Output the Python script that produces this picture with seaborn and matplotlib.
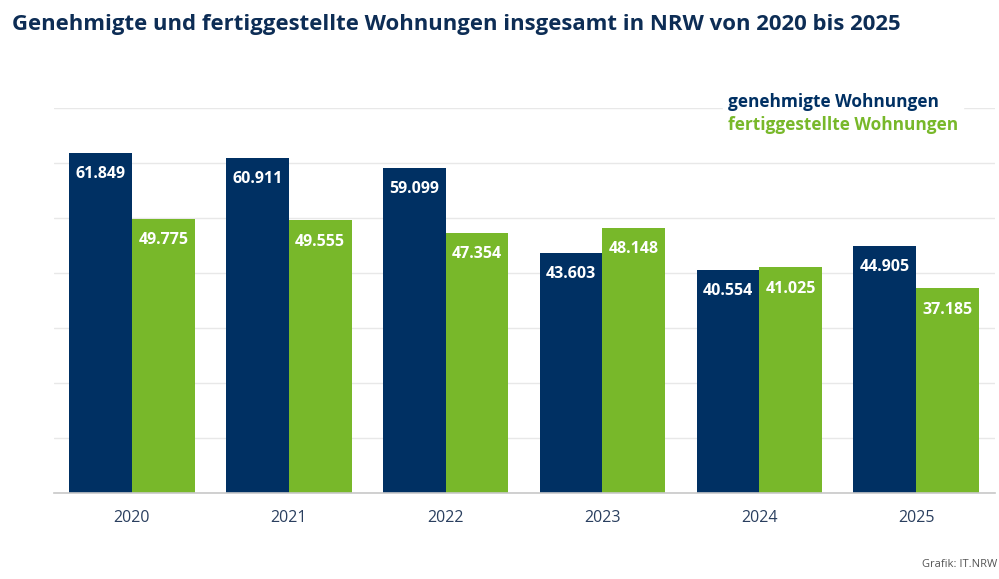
import matplotlib
matplotlib.use("Agg")
import matplotlib.pyplot as plt
import seaborn as sns
import pandas as pd

# Daten
years = ["2020", "2021", "2022", "2023", "2024", "2025"]
genehmigt = [61849, 60911, 59099, 43603, 40554, 44905]
fertig = [49775, 49555, 47354, 48148, 41025, 37185]
series_names = ["genehmigte Wohnungen", "fertiggestellte Wohnungen"]

NAVY = "#003063"
GREEN = "#78b82a"

df = pd.DataFrame({
    "Jahr": years * 2,
    "Wert": genehmigt + fertig,
    "Reihe": [series_names[0]] * len(years) + [series_names[1]] * len(years),
})

sns.set_theme(style="white")
plt.rcParams["font.family"] = ["Open Sans", "DejaVu Sans"]

fig = plt.figure(figsize=(9.99, 5.79), dpi=100)
ax = fig.add_axes([0.0536, 0.1485, 0.942, 0.665])

sns.barplot(data=df, x="Jahr", y="Wert", hue="Reihe",
            palette=[NAVY, GREEN], width=0.8, saturation=1,
            linewidth=0, ax=ax, legend=True)

ax.set_ylim(0, 70000)
ax.set_xlim(-0.5, 5.5)
ax.set_yticks(range(0, 70001, 10000))
ax.set_yticklabels([])
ax.yaxis.grid(True, color="#e8e8e8", linewidth=1)
ax.set_axisbelow(True)
ax.set_xlabel("")
ax.set_ylabel("")
for side in ["top", "right", "left"]:
    ax.spines[side].set_visible(False)
ax.spines["bottom"].set_color("#c8c8c8")
ax.spines["bottom"].set_linewidth(1.2)
ax.tick_params(axis="both", length=0)
ax.tick_params(axis="x", labelsize=11.5, labelcolor="#2a3f5f", pad=12)

# Werte in die Balken schreiben
for cont in ax.containers:
    labels = [f"{int(b.get_height()):,}".replace(",", ".") for b in cont]
    ax.bar_label(cont, labels=labels, padding=-21, color="white",
                 fontsize=11.5, fontweight="bold")

# Legende als farbiger Text
leg = ax.legend(handlelength=0, handletextpad=0, frameon=True,
                loc="upper left", bbox_to_anchor=(0.715, 0.864),
                bbox_transform=fig.transFigure, fontsize=12.4,
                borderpad=0.3, labelspacing=0.3)
leg.get_frame().set_facecolor("white")
leg.get_frame().set_edgecolor("white")
leg.get_frame().set_alpha(1)
leg.get_frame().set_boxstyle("square", pad=0)
for h in leg.legend_handles:
    h.set_visible(False)
for txt, col in zip(leg.get_texts(), [NAVY, GREEN]):
    txt.set_color(col)
    txt.set_fontweight("bold")

fig.text(0.012, 0.958, "Genehmigte und fertiggestellte Wohnungen insgesamt in NRW von 2020 bis 2025",
         fontsize=15.9, fontweight="bold", color="#0d2d55", ha="left", va="center")
fig.text(0.998, 0.025, "Grafik: IT.NRW", fontsize=8, color="#555555",
         ha="right", va="center")

fig.savefig("out.png", dpi=100)
